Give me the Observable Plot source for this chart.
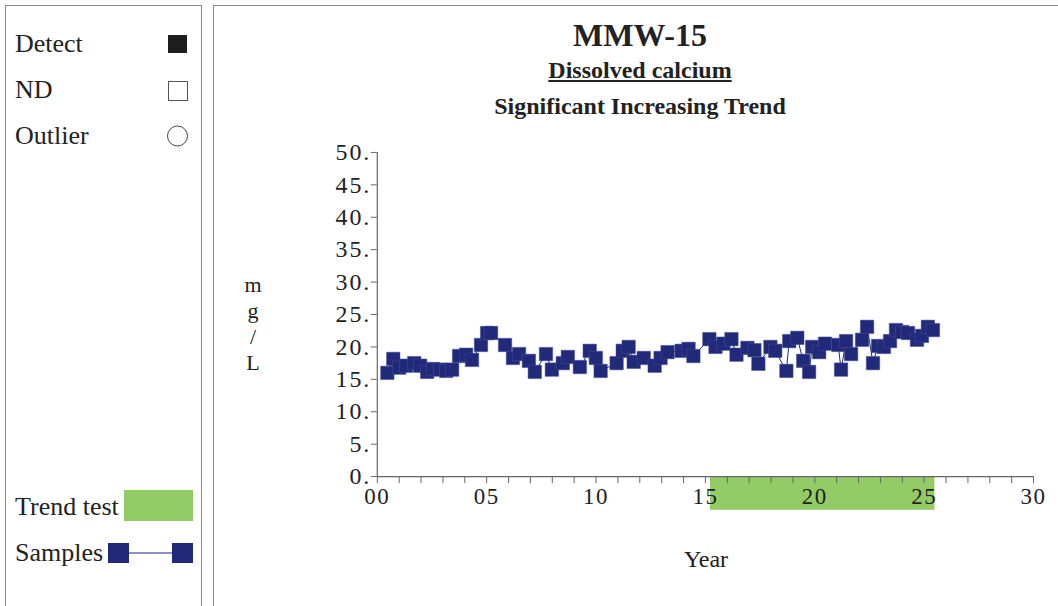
<!DOCTYPE html>
<html>
<head>
<meta charset="utf-8">
<script src="https://cdn.jsdelivr.net/npm/d3@7"></script>
<script src="https://cdn.jsdelivr.net/npm/@observablehq/plot@0.6"></script>
<style>
  html, body { margin: 0; padding: 0; background: #fff; }
  body { width: 1058px; height: 606px; position: relative; overflow: hidden; font-family: "Liberation Serif", "DejaVu Serif", serif; color: #222; }
  .panel { position: absolute; border: 1.5px solid #8a8a8a; border-bottom: none; box-sizing: border-box; }
  .t { position: absolute; white-space: nowrap; line-height: 1; }
  #plot { position: absolute; left: 300px; top: 130px; }
  #plot g[aria-label="y-axis tick label"] text { letter-spacing: 2px; }
  #plot g[aria-label="x-axis tick label"] text { letter-spacing: 1.5px; }
</style>
</head>
<body>
<div class="panel" style="left:5px; top:5px; width:197px; height:610px;"></div>
<div class="panel" style="left:213px; top:5px; width:850px; height:610px;"></div>

<div class="t" style="left:15px; top:31px; font-size:26px;">Detect</div>
<div class="t" style="left:15px; top:77px; font-size:26px;">ND</div>
<div class="t" style="left:15px; top:123px; font-size:26px;">Outlier</div>
<svg style="position:absolute; left:160px; top:25px;" width="40" height="130">
  <rect x="8" y="10" width="19" height="18" fill="#1e1e1e"/>
  <rect x="8.5" y="56.5" width="19" height="19" fill="#fff" stroke="#555" stroke-width="1"/>
  <circle cx="17.5" cy="111" r="10" fill="#fff" stroke="#444" stroke-width="1"/>
</svg>
<div class="t" style="left:15px; top:494px; font-size:26px;">Trend test</div>
<div class="t" style="left:15px; top:540px; font-size:26px;">Samples</div>
<svg style="position:absolute; left:100px; top:480px;" width="100" height="90">
  <rect x="24" y="10" width="69" height="31" fill="#93cb66"/>
  <line x1="29" y1="73" x2="82" y2="73" stroke="#21297a" stroke-width="1"/>
  <rect x="8" y="63" width="21" height="20" fill="#21297a"/>
  <rect x="72" y="63" width="21" height="20" fill="#21297a"/>
</svg>

<div class="t" style="left:440px; width:400px; text-align:center; top:19px; font-size:32px; font-weight:bold;">MMW-15</div>
<div class="t" style="left:440px; width:400px; text-align:center; top:58px; font-size:24px; font-weight:bold;"><span style="text-decoration:underline;">Dissolved calcium</span></div>
<div class="t" style="left:390px; width:500px; text-align:center; top:94px; font-size:24px; font-weight:bold;">Significant Increasing Trend</div>
<div class="t" style="left:238px; width:30px; text-align:center; top:272px; font-size:22px; line-height:26px; white-space:normal;">m<br>g<br>/<br>L</div>
<div class="t" style="left:656px; width:100px; text-align:center; top:547px; font-size:24px;">Year</div>

<div id="plot"></div>

<script>
// Sample dates (years) and dissolved calcium (mg/L)
const years = [0.46,0.73,1.0,1.32,1.69,1.96,2.28,2.55,2.87,3.15,3.42,3.74,4.06,4.33,4.74,5.02,5.2,5.84,6.2,6.48,6.93,7.2,7.71,7.98,8.48,8.71,9.26,9.71,9.99,10.21,10.94,11.22,11.49,11.72,12.18,12.68,12.95,13.27,13.91,14.23,14.45,15.18,15.46,15.82,16.19,16.42,16.92,17.24,17.42,17.97,18.19,18.7,18.83,19.2,19.47,19.74,19.88,20.2,20.47,21.07,21.2,21.43,21.66,22.16,22.39,22.66,22.89,23.16,23.44,23.71,23.99,24.26,24.67,24.9,25.17,25.4];
const values = [16.0,18.15,16.8,17.1,17.5,17.1,16.15,16.6,16.5,16.3,16.5,18.6,18.8,18.0,20.3,22.15,22.15,20.3,18.3,18.9,17.85,16.15,18.9,16.5,17.5,18.45,16.9,19.4,18.3,16.3,17.5,19.4,20.0,17.7,18.3,17.1,18.3,19.2,19.4,19.7,18.6,21.2,20.0,20.5,21.2,18.8,19.85,19.5,17.4,20.0,19.4,16.3,20.9,21.4,17.85,16.15,20.0,19.2,20.5,20.3,16.5,20.9,18.9,21.1,23.1,17.5,20.15,20.0,20.9,22.6,22.3,22.15,21.1,21.7,23.1,22.6];
// Trend test window (years)
const trendStart = 15.23;
const trendEnd = 25.49;
// Axis ticks
const xTicks = d3.range(0, 31, 1);
const xLabelTicks = [0, 5, 10, 15, 20, 25, 30];
const yTicks = [0, 5, 10, 15, 20, 25, 30, 35, 40, 45, 50];

const samples = years.map((x, i) => ({x, y: values[i]}));
const trend = [{x1: trendStart, x2: trendEnd}];
const navy = "#21297a";

const chart = Plot.plot({
  width: 760,
  height: 420,
  marginLeft: 77,
  marginRight: 25,
  marginTop: 22,
  marginBottom: 73,
  style: {fontFamily: "Liberation Serif, serif", fontSize: "20px", color: "#222", background: "transparent", overflow: "visible"},
  x: {domain: [0, 30]},
  y: {domain: [0, 50]},
  marks: [
    Plot.rect(trend, {x1: "x1", x2: "x2", y1: -0.15, y2: -5.2, fill: "#93cb66"}),
    Plot.ruleX([0], {stroke: "#666", strokeWidth: 1.2}),
    Plot.ruleY([0], {stroke: "#666", strokeWidth: 1.2}),
    Plot.axisY({ticks: yTicks, tickFormat: d => d + ".", tickSize: 6, tickPadding: 0, label: null, stroke: "#666", fontSize: 24}),
    Plot.axisX({ticks: xTicks, tickFormat: d => xLabelTicks.includes(d) ? d3.format("02d")(d) : "", tickSize: 7, tickPadding: 4, label: null, stroke: "#666", fontSize: 23}),
    Plot.line(samples, {x: "x", y: "y", stroke: navy, strokeWidth: 1}),
    Plot.dot(samples, {x: "x", y: "y", symbol: "square", r: 7.6, fill: navy, stroke: "#4a5196", strokeWidth: 0.5})
  ]
});
document.getElementById("plot").appendChild(chart);
</script>
</body>
</html>
